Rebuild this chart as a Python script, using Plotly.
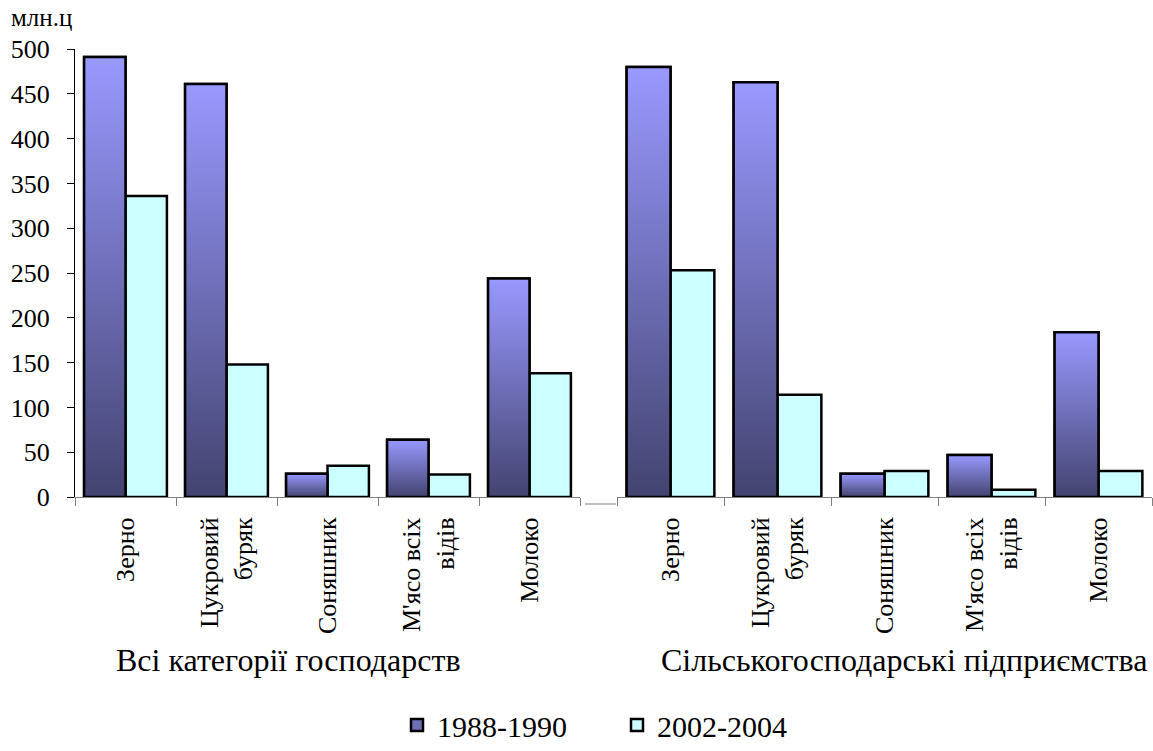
import plotly.graph_objects as go

# ---- data ----
categories = ["Зерно", "Цукровий<br>буряк", "Соняшник", "М'ясо всіх<br>відів", "Молоко"]
groups = ["Всі категорії господарств", "Сільськогосподарські підприємства"]
series_names = ["1988-1990", "2002-2004"]
all_1988 = [491, 461, 26, 64, 244]
all_2002 = [336, 148, 35, 25, 138]
agr_1988 = [480, 463, 26, 47, 184]
agr_2002 = [253, 114, 29, 8, 29]
y_unit = "млн.ц"

# ---- style ----
W, H = 1153, 751
ML, MR, MT, MB = 75, 1, 49, 254
PW, PH = W - ML - MR, H - MT - MB
BW = 0.41
FONT = "Liberation Serif, DejaVu Serif, serif"
DARK, LIGHT, CYAN = "#434370", "#9999ff", "#ccffff"

def px_x(p):
    return (p - ML) / PW

def px_y(p):
    return (H - MB - p) / PH

fig = go.Figure()
idx = list(range(len(categories)))
panels = [("x", "y", all_1988, all_2002), ("x2", "y2", agr_1988, agr_2002)]

for k, (xa, ya, s1, s2) in enumerate(panels):
    fig.add_trace(go.Bar(
        x=idx, y=s1, width=BW, offset=-BW, xaxis=xa, yaxis=ya,
        name=series_names[0], legendgroup="a", showlegend=(k == 0),
        marker=dict(color="#6f6fb8", line=dict(color="black", width=2.5)),
        hoverinfo="y",
    ))
    fig.add_trace(go.Bar(
        x=idx, y=s2, width=BW, offset=0, xaxis=xa, yaxis=ya,
        name=series_names[1], legendgroup="b", showlegend=(k == 0),
        marker=dict(color=CYAN, line=dict(color="black", width=2.5)),
        hoverinfo="y",
    ))
    # gradient overlay for first series, derived from the data
    for i, v in zip(idx, s1):
        fig.add_trace(go.Scatter(
            x=[i - BW, i - BW, i, i, i - BW], y=[0, v, v, 0, 0],
            xaxis=xa, yaxis=ya, mode="lines", fill="toself",
            fillgradient=dict(type="vertical", colorscale=[[0, DARK], [1, LIGHT]]),
            line=dict(color="black", width=2.5),
            showlegend=False, hoverinfo="skip",
        ))

xcommon = dict(
    range=[-0.5, 4.5], tickmode="array", tickvals=idx, ticktext=categories,
    tickangle=-90, ticks="", showline=True, linecolor="#808080", linewidth=1,
    tickfont=dict(family=FONT, size=26, color="black"), ticklabelstandoff=9,
    minor=dict(tickmode="array", tickvals=[i - 0.5 for i in range(6)],
               ticks="outside", ticklen=8, tickcolor="#808080", tickwidth=1),
    showgrid=False, zeroline=False, fixedrange=True, automargin=False,
)

fig.update_layout(
    width=W, height=H,
    margin=dict(l=ML, r=MR, t=MT, b=MB, autoexpand=False),
    paper_bgcolor="white", plot_bgcolor="white",
    font=dict(family=FONT, color="black"),
    barmode="overlay",
    xaxis=dict(domain=[0, px_x(580)], anchor="y", **xcommon),
    xaxis2=dict(domain=[px_x(617), 1], anchor="y2", **xcommon),
    yaxis=dict(range=[0, 500], dtick=50, ticks="outside", ticklen=7,
               tickcolor="black", showline=True, linecolor="black", linewidth=1,
               tickfont=dict(family=FONT, size=26, color="black"),
               ticklabelstandoff=12, showgrid=False, zeroline=False, anchor="x",
               automargin=False, fixedrange=True),
    yaxis2=dict(range=[0, 500], anchor="x2", showline=False, showticklabels=False,
                ticks="", showgrid=False, zeroline=False, automargin=False,
                fixedrange=True),
    legend=dict(orientation="h", x=397 / W, xanchor="left", xref="container",
                y=-7 / H, yanchor="bottom", yref="container",
                font=dict(family=FONT, size=30, color="black"), traceorder="normal",
                itemwidth=30, entrywidth=175),
    showlegend=True,
    shapes=[dict(type="line", xref="paper", yref="paper",
                 x0=px_x(585), x1=px_x(616), y0=px_y(504), y1=px_y(504),
                 line=dict(color="#808080", width=1))],
    annotations=[
        dict(text=y_unit, xref="paper", yref="paper", x=px_x(9), y=px_y(17),
             xanchor="left", yanchor="middle", showarrow=False,
             font=dict(family=FONT, size=25, color="black")),
        dict(text=groups[0], xref="paper", yref="paper", x=px_x(288), y=px_y(660),
             xanchor="center", yanchor="middle", showarrow=False,
             font=dict(family=FONT, size=32, color="black")),
        dict(text=groups[1], xref="paper", yref="paper", x=px_x(904), y=px_y(660),
             xanchor="center", yanchor="middle", showarrow=False,
             font=dict(family=FONT, size=32, color="black")),
    ],
)

fig.write_html(
    "out.html",
    config={"displayModeBar": False},
    post_script="document.body.style.margin='0';document.body.style.padding='0';",
)
